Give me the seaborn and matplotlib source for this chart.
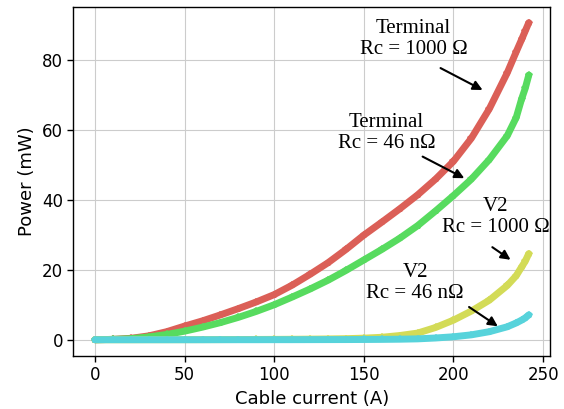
import pandas as pd
import matplotlib
matplotlib.use("Agg")
import matplotlib.pyplot as plt
import seaborn as sns

# Cable current (A) and power (mW)
current = [0, 10, 20, 30, 40, 50, 60, 70, 80, 90, 100, 110, 120, 130, 140, 150,
           160, 170, 180, 190, 200, 210, 220, 230, 235, 238, 240, 242]

terminal_1000 = [0.0, 0.1, 0.4, 1.1, 2.3, 3.9, 5.4, 7.1, 8.9, 10.8, 12.9, 15.6, 18.7, 22.0,
                 25.8, 29.9, 33.6, 37.4, 41.4, 45.9, 51.0, 57.6, 66.0, 76.3, 82.3, 85.8, 88.2, 90.6]
terminal_46n = [0.0, 0.1, 0.3, 0.8, 1.5, 2.45, 3.6, 4.9, 6.4, 8.1, 10.0, 12.2, 14.5, 17.0,
                19.8, 22.8, 25.8, 29.0, 32.6, 36.8, 41.2, 45.9, 51.5, 58.3, 63.5, 68.8, 71.8, 75.6]
v2_1000 = [0.0, 0.0, 0.0, 0.01, 0.01, 0.02, 0.03, 0.04, 0.06, 0.08, 0.1, 0.13, 0.17, 0.22,
           0.3, 0.45, 0.7, 1.2, 1.9, 3.5, 5.6, 8.2, 11.3, 15.5, 18.3, 20.8, 22.4, 24.6]
v2_46n = [0.0, 0.0, 0.0, 0.0, 0.0, 0.0, 0.0, 0.01, 0.01, 0.01, 0.02, 0.02, 0.03, 0.04,
          0.05, 0.07, 0.1, 0.15, 0.25, 0.5, 0.85, 1.4, 2.3, 3.7, 4.8, 5.6, 6.2, 7.1]

series = {
    "Terminal 1000": terminal_1000,
    "Terminal 46n": terminal_46n,
    "V2 1000": v2_1000,
    "V2 46n": v2_46n,
}

# (text, text position, arrow start, arrow end) in data coordinates
annotations = [
    ("Terminal\nRc = 1000 \u03a9", (177.7, 86.0), (191.4, 78.0), (217.6, 71.0)),
    ("Terminal\nRc = 46 n\u03a9", (162.7, 59.0), (181.4, 52.7), (207.4, 45.8)),
    ("V2\nRc = 1000 \u03a9", (223.5, 35.1), (220.4, 26.9), (233.1, 22.4)),
    ("V2\nRc = 46 n\u03a9", (178.6, 16.3), (207.4, 9.8), (226.0, 3.4)),
]


def main():
    sns.set_style("whitegrid", {
        "axes.edgecolor": "black",
        "axes.labelcolor": "black",
        "text.color": "black",
        "xtick.color": "black",
        "ytick.color": "black",
        "grid.color": "#cccccc",
        "xtick.bottom": True,
        "ytick.left": True,
    })
    pal = sns.color_palette("hls", 6)
    colors = [pal[0], pal[2], pal[1], pal[3]]

    fig, ax = plt.subplots(figsize=(5.64, 4.09), dpi=100)
    fig.subplots_adjust(left=0.13, right=0.976, top=0.983, bottom=0.13)

    for (name, vals), c in zip(series.items(), colors):
        df = pd.DataFrame({"current": current, "power": vals})
        sns.lineplot(data=df, x="current", y="power", ax=ax, color=c, lw=5,
                     marker="p", markersize=5.5, markeredgewidth=0)

    for text, pos, start, end in annotations:
        ax.text(pos[0], pos[1], text, ha="center", va="center", fontsize=15,
                family="Liberation Serif", linespacing=1.15, color="black")
        ax.annotate("", xy=end, xytext=start,
                    arrowprops=dict(arrowstyle="-|>", color="black", lw=1.5,
                                    mutation_scale=14))

    ax.set_xlim(-12.1, 254.1)
    ax.set_ylim(-4.6, 95.1)
    ax.set_xticks([0, 50, 100, 150, 200, 250])
    ax.set_yticks([0, 20, 40, 60, 80])
    ax.tick_params(labelsize=12, length=4, width=1, color="black")
    ax.set_xlabel("Cable current (A)", fontsize=13)
    ax.set_ylabel("Power (mW)", fontsize=13)
    for s in ax.spines.values():
        s.set_color("black")
        s.set_linewidth(1)

    plt.savefig("out.png", dpi=100)


if __name__ == "__main__":
    main()
